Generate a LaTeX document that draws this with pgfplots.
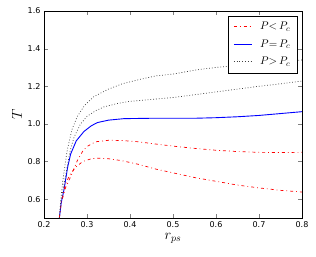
\documentclass[border=0pt]{standalone}
\usepackage{fontspec}
\setmainfont{DejaVu Sans}
\usepackage{pgfplots}
\pgfplotsset{compat=1.18}
\begin{document}
\begin{tikzpicture}
\begin{axis}[
  scale only axis, width=258pt, height=207pt,
  xmin=0.2, xmax=0.8, ymin=0.5, ymax=1.6,
  xtick={0.2,0.3,...,0.8}, ytick={0.6,0.8,...,1.6},
  xticklabel style={/pgf/number format/.cd, fixed, fixed zerofill, precision=1},
  yticklabel style={/pgf/number format/.cd, fixed, fixed zerofill, precision=1},
  /pgf/number format/assume math mode=true,
  tick label style={font=\fontsize{8}{9}\selectfont},
  tick align=inside, tick pos=both,
  major tick length=4pt,
  xlabel={$r_{ps}$}, ylabel={$T$},
  label style={font=\fontsize{14}{16}\selectfont},
  xlabel style={yshift=1pt},
  ylabel style={yshift=-1pt},
  axis line style={black, line width=0.8pt},
  legend style={at={(rel axis cs:0.983,0.978)}, anchor=north east, draw=black, line width=0.6pt,
    font=\fontsize{11}{13}\selectfont, row sep=5.5pt, inner xsep=5pt, inner ysep=5pt, fill=white,
    nodes={inner ysep=1.5pt},
    /tikz/every odd column/.append style={column sep=6pt}},
  legend image code/.code={\draw[#1] (0pt,0pt) -- (18pt,0pt);},
  legend cell align=left,
]
\addplot[red, line width=0.7pt, dash pattern=on 3pt off 3pt on 0.8pt off 3pt] coordinates {
(0.2357,0.5) (0.24,0.58) (0.25,0.66) (0.262,0.72) (0.2775,0.805) (0.29,0.855) (0.3,0.88) (0.32,0.905) (0.35,0.913) (0.38,0.912) (0.42,0.905) (0.46,0.893) (0.5,0.882) (0.55,0.87) (0.6,0.86) (0.65,0.853) (0.7,0.849) (0.75,0.848) (0.8,0.849)};
\addlegendentry{$P{<}\,P_c$}
\addplot[blue, line width=0.9pt] coordinates {
(0.2357,0.5) (0.24,0.58) (0.2465,0.65) (0.255,0.77) (0.262,0.84) (0.275,0.91) (0.293,0.96) (0.31,0.99) (0.324,1.007) (0.35,1.02) (0.386,1.028) (0.45,1.03) (0.5,1.03) (0.55,1.03) (0.6,1.033) (0.65,1.038) (0.7,1.045) (0.75,1.055) (0.8,1.065)};
\addlegendentry{$P{=}\,P_c$}
\addplot[black!75, line width=0.7pt, dash pattern=on 0.8pt off 2pt] coordinates {
(0.2357,0.5) (0.24,0.62) (0.245,0.72) (0.254,0.86) (0.265,0.97) (0.2775,1.04) (0.295,1.1) (0.316,1.145) (0.35,1.185) (0.382,1.213) (0.42,1.235) (0.46,1.255) (0.5,1.265) (0.563,1.29) (0.6,1.3) (0.65,1.31) (0.7,1.32) (0.75,1.33) (0.8,1.34)};
\addlegendentry{$P{>}\,P_c$}
\addplot[red, line width=0.7pt, dash pattern=on 3pt off 3pt on 0.8pt off 3pt, forget plot] coordinates {
(0.2357,0.5) (0.24,0.58) (0.25,0.68) (0.26,0.73) (0.2737,0.77) (0.29,0.80) (0.31,0.815) (0.33,0.818) (0.35,0.815) (0.38,0.805) (0.42,0.785) (0.46,0.76) (0.5,0.74) (0.55,0.715) (0.6,0.695) (0.65,0.675) (0.7,0.66) (0.75,0.647) (0.8,0.638)};
\addplot[black!75, line width=0.7pt, dash pattern=on 0.8pt off 2pt, forget plot] coordinates {
(0.2357,0.5) (0.24,0.6) (0.25,0.72) (0.26,0.85) (0.27,0.93) (0.285,1.0) (0.3,1.04) (0.32,1.07) (0.34,1.091) (0.37,1.108) (0.4,1.12) (0.45,1.13) (0.5,1.14) (0.55,1.155) (0.6,1.17) (0.65,1.185) (0.7,1.2) (0.75,1.213) (0.8,1.228)};
\end{axis}
\path ([shift={(-44pt,-39pt)}]current axis.south west) rectangle ([shift={(14pt,11pt)}]current axis.north east);
\end{tikzpicture}
\end{document}
